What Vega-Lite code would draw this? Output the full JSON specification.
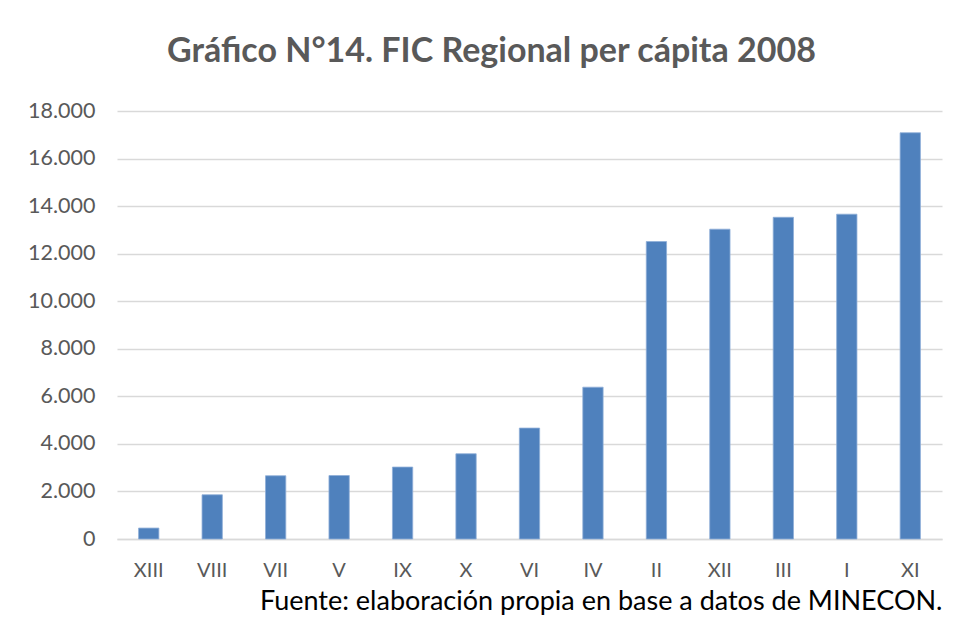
{
  "$schema": "https://vega.github.io/schema/vega-lite/v6.json",
  "autosize": {"type": "none"},
  "padding": {"left": 117, "top": 111, "right": 16, "bottom": 82},
  "width": 825,
  "height": 428,
  "background": "white",
  "title": {
    "text": "Gráfico N°14. FIC Regional per cápita 2008",
    "font": "Lato",
    "fontSize": 34,
    "fontWeight": "bold",
    "color": "#595959",
    "anchor": "middle",
    "dx": -38,
    "offset": 31
  },
  "data": {
    "values": [
      {"region": "XIII", "valor": 460},
      {"region": "VIII", "valor": 1860},
      {"region": "VII", "valor": 2660},
      {"region": "V", "valor": 2670},
      {"region": "IX", "valor": 3025},
      {"region": "X", "valor": 3585},
      {"region": "VI", "valor": 4665},
      {"region": "IV", "valor": 6385},
      {"region": "II", "valor": 12510},
      {"region": "XII", "valor": 13030},
      {"region": "III", "valor": 13530},
      {"region": "I", "valor": 13660},
      {"region": "XI", "valor": 17085}
    ]
  },
  "mark": {"type": "bar", "color": "#4F81BD", "stroke": "#8FAFD8", "strokeWidth": 0.8},
  "encoding": {
    "x": {
      "field": "region",
      "type": "nominal",
      "sort": null,
      "scale": {"paddingInner": 0.68, "paddingOuter": 0.34},
      "axis": {
        "title": "Fuente: elaboración propia en base a datos de MINECON.",
        "titleFont": "Lato",
        "titleFontSize": 27,
        "titleFontWeight": "normal",
        "titleColor": "#000000",
        "titleAnchor": "end",
        "titlePadding": 8,
        "labelAngle": 0,
        "labelFont": "Lato",
        "labelFontSize": 20,
        "labelColor": "#595959",
        "labelPadding": 21,
        "ticks": false,
        "domainColor": "#D9D9D9",
        "domainWidth": 1.5
      }
    },
    "y": {
      "field": "valor",
      "type": "quantitative",
      "scale": {"domain": [0, 18000], "nice": false},
      "axis": {
        "title": null,
        "values": [0, 2000, 4000, 6000, 8000, 10000, 12000, 14000, 16000, 18000],
        "format": ",d",
        "labelExpr": "replace(datum.label, /,/g, '.')",
        "labelFont": "Lato",
        "labelFontSize": 21.5,
        "labelColor": "#595959",
        "labelPadding": 22,
        "ticks": false,
        "domain": false,
        "gridColor": "#D9D9D9",
        "gridWidth": 1.5
      }
    }
  },
  "config": {"view": {"stroke": null}}
}
